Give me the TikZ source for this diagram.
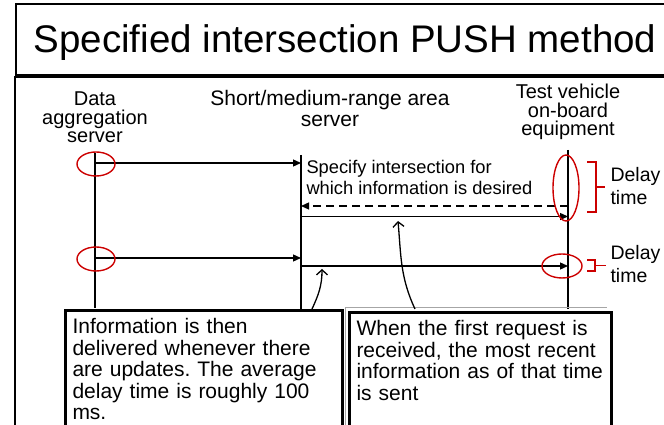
\documentclass[tikz,border=0pt]{standalone}
\usepackage{fontspec}
\setmainfont{Liberation Sans}
\frenchspacing
\usetikzlibrary{arrows.meta,positioning}

\begin{document}
\begin{tikzpicture}[x=1pt,y=1pt,
    lifeline/.style={line width=1.6pt},
    msg/.style={line width=1.3pt,-{Triangle[length=8pt,width=7pt]}},
    reply/.style={msg,dash pattern=on 8pt off 5pt},
    ring/.style={draw=red!80!black,line width=1.4pt},
    brak/.style={draw=red!80!black,line width=1.4pt},
    head/.style={align=center,font=\fontsize{20}{18.5}\selectfont},
    note/.style={draw,line width=3pt,fill=white,anchor=north west,align=left,
      inner xsep=7pt,inner ysep=8pt,text depth=150pt,
      font=\fontsize{21}{21.5}\selectfont},
    pointer/.style={line width=1.3pt,-{Straight Barb[length=5pt,width=11pt]}}]
    \useasboundingbox (0,0) rectangle (664,425);

    % --- Cornice e titolo ---
    \draw[line width=1.3pt] (670,421) -- (16,421) -- (16,350) -- (670,350);
    \draw[line width=1.3pt] (15,-5) -- (15,348) -- (670,348);
    \node (title) at (345,382) {\fontsize{38.5}{40}\selectfont Specified intersection PUSH method};

    % intestazioni delle tre entita'
    \node[head] (hA) at (95,307.5) {Data\\aggregation\\server};
    \node[head,font=\fontsize{21}{20.5}\selectfont] (hB) at (330,316.5) {Short/medium-range area\\server};
    \node[head] (hC) at (568,313) {Test vehicle\\on-board\\equipment};

    % linee di vita
    \coordinate (A0) at (95,272);  \coordinate (A9) at (95,117);
    \coordinate (B0) at (301,270); \coordinate (B9) at (301,116);
    \coordinate (C0) at (568,275); \coordinate (C9) at (568,116);
    \draw[lifeline] (A0) -- (A9);
    \draw[lifeline] (B0) -- (B9);
    \draw[lifeline] (C0) -- (C9);

    % punti dei messaggi
    \coordinate (A1) at (95,262);  \coordinate (B1) at (301,262);
    \coordinate (C2) at (568,219); \coordinate (B2) at (301,219);
    \coordinate (B3) at (301,208.5); \coordinate (C3) at (568,208.5);
    \coordinate (A4) at (95,167);  \coordinate (B4) at (301,167);
    \coordinate (B5) at (301,159); \coordinate (C5) at (568,159);

    % messaggi
    \draw[msg] (A1) -- (B1);
    \draw[reply] (C2) -- (B2);
    \draw[msg] (B3) -- (C3);
    \draw[msg] (A4) -- (B4);
    \draw[msg] (B5) -- (C5);

    \node[anchor=west,align=left,font=\fontsize{18.3}{21}\selectfont] (spec) at (303,247.5)
      {Specify intersection for\\which information is desired};

    % cerchi rossi (ritardi)
    \draw[ring] (96,261) ellipse [x radius=19,y radius=12];
    \draw[ring] (96,166) ellipse [x radius=19,y radius=12];
    \draw[ring] (566,237) ellipse [x radius=13,y radius=33];
    \draw[ring] (562,159) ellipse [x radius=20,y radius=12];

    % parentesi e etichette del ritardo
    \draw[brak] (587,263) -- (596,263) -- (596,213) -- (587,213) (596,238) -- (605,238);
    \draw[brak] (587,165) -- (595,165) -- (595,154) -- (587,154) (595,159.5) -- (606,159.5);
    \node[anchor=west,align=left,font=\fontsize{19.5}{23}\selectfont] (dl1) at (607,239) {Delay\\time};
    \node[anchor=west,align=left,font=\fontsize{19.5}{23}\selectfont] (dl2) at (607,161) {Delay\\time};

    % --- Riquadri di testo ---
    \node[note,text width=263pt] (infoL) at (64,116)
      {Information is then\\delivered whenever there\\are updates. The average\\delay time is roughly 100\\ms.};
    \draw[gray!70,line width=1pt] (345,-5) |- (607,117);
    \node[note,text width=248pt] (infoR) at (348,114)
      {When the first request is\\received, the most recent\\information as of that time\\is sent};

    % frecce curve verso i messaggi
    \coordinate (q1) at (312,116); \coordinate (t1) at (322,156);
    \coordinate (q2) at (415,116); \coordinate (t2) at (398,204);
    \draw[pointer] (q1) to[out=65,in=-90] (t1);
    \draw[pointer] (q2) to[out=115,in=-85] (t2);
\end{tikzpicture}
\end{document}
